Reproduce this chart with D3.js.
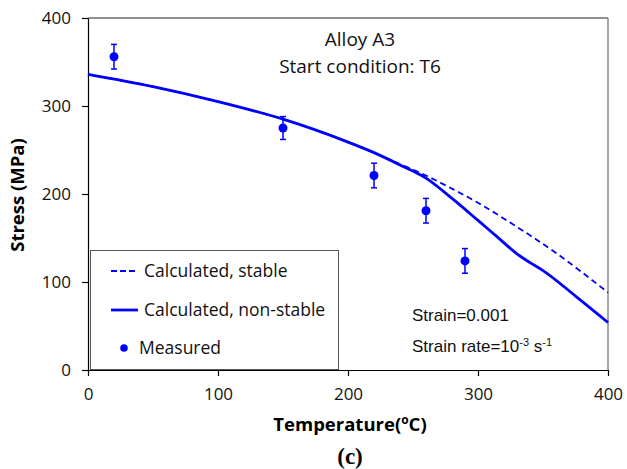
<!DOCTYPE html>
<html><head><meta charset="utf-8">
<script src="https://cdn.jsdelivr.net/npm/d3@7"></script>
<style>body{margin:0;background:#fff}svg{display:block}</style>
</head><body>
<script>
// ---- data ----
const xTicks = [0, 100, 200, 300, 400];
const yTicks = [0, 100, 200, 300, 400];
const stableT = [0, 50, 100, 150, 200, 220, 240, 260, 280, 300, 320, 340, 360, 380, 400];
const stableS = [336, 322, 305, 285, 259, 247, 234, 221, 206, 190, 172, 153, 133, 111, 88];
const nonStableT = [0, 50, 100, 150, 200, 220, 240, 260, 280, 300, 315, 330, 340, 350, 375, 400];
const nonStableS = [336, 322, 305, 285, 259, 247, 233, 218, 195, 170, 151, 132, 122, 113, 84, 54];
const measT = [20, 150, 220, 260, 290];
const measS = [356, 275, 221, 181, 124];
const measErr = [14, 13, 14, 14, 14];
const legendLabels = ["Calculated, stable", "Calculated, non-stable", "Measured"];

const W = 627, H = 469;
const m = {l: 88, t: 18, r: 608, b: 370};
const blue = "#0000ff";
const font = "'Open Sans', sans-serif";

const svg = d3.select("body").append("svg").attr("width", W).attr("height", H);
const x = d3.scaleLinear().domain([0, 400]).range([m.l, m.r]);
const y = d3.scaleLinear().domain([0, 400]).range([m.b, m.t]);

// plot frame (top/right)
svg.append("line").attr("x1", m.l).attr("x2", m.r).attr("y1", m.t).attr("y2", m.t).attr("stroke", "#222").attr("stroke-width", 1);
svg.append("line").attr("x1", m.r).attr("x2", m.r).attr("y1", m.t).attr("y2", m.b).attr("stroke", "#777").attr("stroke-width", 1.3);

// axes
const ya = svg.append("g").attr("transform", `translate(${m.l},0)`)
  .call(d3.axisLeft(y).tickValues(yTicks).tickSize(6).tickPadding(11).tickSizeOuter(0));
const xa = svg.append("g").attr("transform", `translate(0,${m.b})`)
  .call(d3.axisBottom(x).tickValues(xTicks).tickSize(6).tickSizeOuter(0));
[ya, xa].forEach(g => {
  g.selectAll("path,line").attr("stroke", "#000").attr("stroke-width", 1.2);
  g.selectAll("text").attr("font-family", font).attr("font-size", 17).attr("fill", "#111");
});
ya.selectAll("text").attr("dy", "0.35em");
xa.selectAll("text").attr("y", 30).attr("dy", 0);

// curves
const line = d3.line().x(d => x(d[0])).y(d => y(d[1])).curve(d3.curveMonotoneX);
svg.append("path").datum(stableT.map((t, i) => [t, stableS[i]]))
  .attr("d", line).attr("fill", "none").attr("stroke", blue).attr("stroke-width", 1.8).attr("stroke-dasharray", "6,4");
svg.append("path").datum(nonStableT.map((t, i) => [t, nonStableS[i]]))
  .attr("d", line).attr("fill", "none").attr("stroke", blue).attr("stroke-width", 2.8);

// measured points with error bars
const pts = svg.append("g");
measT.forEach((t, i) => {
  const cx = x(t);
  pts.append("line").attr("x1", cx).attr("x2", cx).attr("y1", y(measS[i] + measErr[i])).attr("y2", y(measS[i] - measErr[i])).attr("stroke", blue).attr("stroke-width", 1.5);
  [measS[i] + measErr[i], measS[i] - measErr[i]].forEach(v =>
    pts.append("line").attr("x1", cx - 3).attr("x2", cx + 3).attr("y1", y(v)).attr("y2", y(v)).attr("stroke", blue).attr("stroke-width", 1.5));
  pts.append("circle").attr("cx", cx).attr("cy", y(measS[i])).attr("r", 4.5).attr("fill", blue);
});

// legend
const lg = svg.append("g");
lg.append("rect").attr("x", 90.5).attr("y", 250.5).attr("width", 248).attr("height", 119).attr("fill", "#fff").attr("stroke", "#555").attr("stroke-width", 1);
const ly = [271, 310, 348];
lg.append("line").attr("x1", 111).attr("x2", 135).attr("y1", ly[0]).attr("y2", ly[0]).attr("stroke", blue).attr("stroke-width", 1.8).attr("stroke-dasharray", "6,3");
lg.append("line").attr("x1", 111).attr("x2", 138).attr("y1", ly[1]).attr("y2", ly[1]).attr("stroke", blue).attr("stroke-width", 2.8);
lg.append("circle").attr("cx", 124).attr("cy", ly[2]).attr("r", 3.8).attr("fill", blue);
const lx = [144, 144, 139];
legendLabels.forEach((s, i) => lg.append("text").attr("x", lx[i]).attr("y", ly[i] + 6).attr("font-family", font).attr("font-size", 17.5).attr("fill", "#111").text(s));

// annotations
svg.append("text").attr("x", 360).attr("y", 46).attr("text-anchor", "middle").attr("font-family", font).attr("font-size", 19).attr("fill", "#111").text("Alloy A3");
svg.append("text").attr("x", 360).attr("y", 73).attr("text-anchor", "middle").attr("font-family", font).attr("font-size", 19).attr("fill", "#111").text("Start condition: T6");

const af = "'Liberation Sans', Arial, sans-serif";
svg.append("text").attr("x", 412).attr("y", 321).attr("font-family", af).attr("font-size", 17).attr("fill", "#111").text("Strain=0.001");
const sr = svg.append("text").attr("x", 412).attr("y", 352).attr("font-family", af).attr("font-size", 17).attr("fill", "#111");
sr.append("tspan").text("Strain rate=10");
sr.append("tspan").attr("font-size", 11).attr("dy", -6).text("-3");
sr.append("tspan").attr("font-size", 17).attr("dy", 6).text(" s");
sr.append("tspan").attr("font-size", 11).attr("dy", -6).text("-1");

// axis titles
svg.append("text").attr("transform", "translate(24,195) rotate(-90)").attr("text-anchor", "middle")
  .attr("font-family", font).attr("font-weight", "bold").attr("font-size", 18.5).attr("fill", "#000").text("Stress (MPa)");
const xt = svg.append("text").attr("x", 350).attr("y", 431).attr("text-anchor", "middle")
  .attr("font-family", font).attr("font-weight", "bold").attr("font-size", 18.5).attr("fill", "#000");
xt.append("tspan").text("Temperature(");
xt.append("tspan").attr("font-size", 12).attr("dy", -7).text("o");
xt.append("tspan").attr("dy", 7).text("C)");
svg.append("text").attr("x", 350).attr("y", 464).attr("text-anchor", "middle")
  .attr("font-family", "'Liberation Serif', 'Times New Roman', serif").attr("font-weight", "bold").attr("font-size", 23).attr("fill", "#000").text("(c)");
</script>
</body></html>
